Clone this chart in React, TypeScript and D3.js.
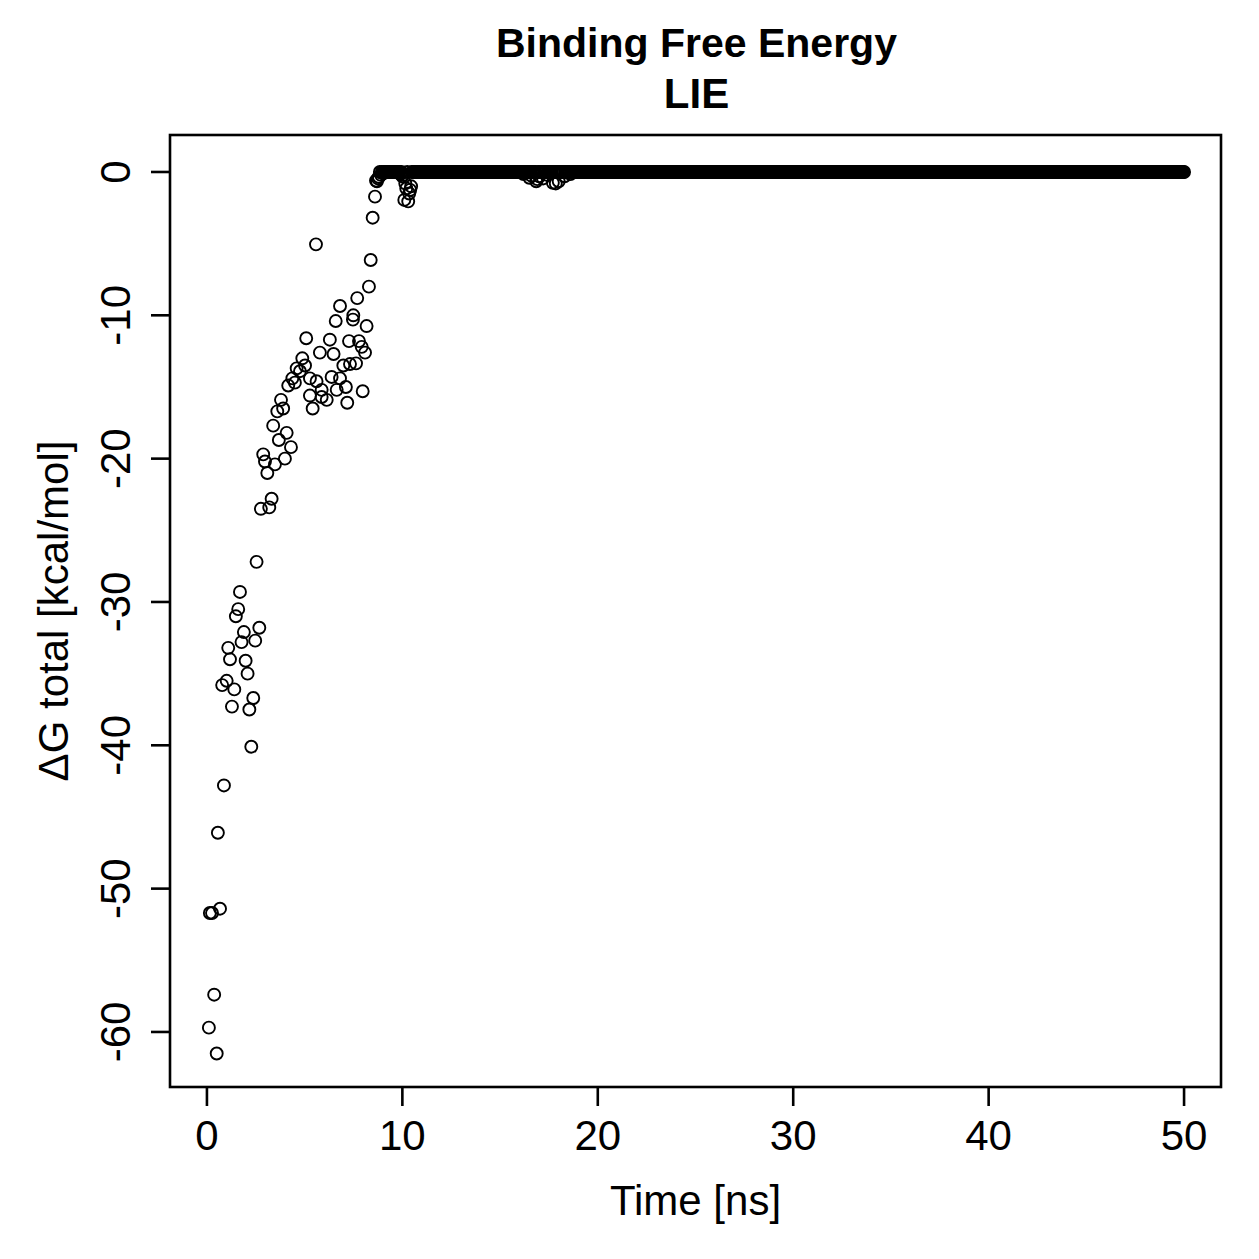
import * as d3 from 'd3';

// early part of the run, [time ns, dG kcal/mol]
const earlyTimes = [
  0.10, 0.15, 0.26, 0.37, 0.50, 0.56, 0.67, 0.87,
  2.54, 1.69, 1.60, 1.48, 2.68, 1.89, 1.77, 2.47, 1.09, 1.18, 1.98, 2.08,
  1.01, 0.78, 1.40, 2.37, 1.28, 2.17, 2.27,
  6.59, 7.47, 8.17, 5.08, 6.29, 7.27, 7.78, 7.92, 8.09, 5.78, 6.48, 4.88,
  4.59, 5.02, 4.76, 6.98, 7.32, 7.63, 4.37, 4.16, 4.50, 5.27, 5.61, 6.38,
  6.81, 7.11, 6.64, 5.87, 5.27, 5.87, 6.13, 7.97, 7.18, 5.41, 3.79, 3.90,
  3.60, 3.39, 4.08, 3.68, 4.30, 2.88, 2.97, 3.48, 3.99, 3.09, 3.31, 3.19,
  2.76,
  8.60, 8.48, 5.58, 8.38, 8.29, 7.69, 6.81, 7.49,
];
const earlyDG = [
  -59.7, -51.7, -51.7, -57.4, -61.5, -46.1, -51.4, -42.8,
  -27.2, -29.3, -30.5, -31.0, -31.8, -32.1, -32.8, -32.7, -33.2, -34.0, -34.1, -35.0,
  -35.5, -35.8, -36.1, -36.7, -37.3, -37.5, -40.1,
  -10.4, -10.3, -10.75, -11.6, -11.7, -11.8, -11.8, -12.2, -12.6, -12.6, -12.7, -13.0,
  -13.7, -13.5, -13.9, -13.5, -13.4, -13.35, -14.4, -14.9, -14.7, -14.4, -14.6, -14.3,
  -14.4, -15.0, -15.2, -15.2, -15.6, -15.7, -15.9, -15.3, -16.1, -16.5, -15.9, -16.5,
  -16.7, -17.7, -18.2, -18.7, -19.2, -19.7, -20.2, -20.4, -20.0, -21.0, -22.8, -23.4,
  -23.5,
  -1.72, -3.19, -5.05, -6.14, -8.0, -8.8, -9.35, -10.0,
];

// converged part: sampled every 0.05 ns, sitting at 0 apart from a few dips
const plateauFirst = 173; // frame index (x 0.05 ns)
const plateauLast = 1000;
const frameStep = 0.05;
const plateauDG = 0;
const dipTimes = [
  8.65, 8.70, 8.75, 8.80, 8.90, 9.00, 9.10, 9.90, 10.00, 10.05,
  10.10, 10.15, 10.20, 10.30, 10.35, 10.40, 10.45,
  16.20, 16.50, 16.60, 16.85, 16.90, 17.00, 17.20, 17.40, 17.70, 17.85, 18.00, 18.30, 18.60,
];
const dipDG = [
  -0.6, -0.65, -0.45, -0.35, -0.2, -0.1, -0.05, -0.15, -0.3, -0.2,
  -1.95, -0.8, -1.15, -2.05, -1.5, -1.25, -1.0,
  -0.15, -0.4, -0.25, -0.65, -0.5, -0.3, -0.45, -0.2, -0.75, -0.8, -0.65, -0.3, -0.15,
];

const xTicks = [0, 10, 20, 30, 40, 50];
const yTicks = [-60, -50, -40, -30, -20, -10, 0];

const W = 1259;
const H = 1259;
const box = { left: 170, right: 1221, top: 135, bottom: 1087 };
const font = '"Liberation Sans", Arial, Helvetica, sans-serif';

export default function App() {
  const x = d3.scaleLinear().domain([-1.89, 51.89]).range([box.left, box.right]);
  const y = d3.scaleLinear().domain([-63.84, 2.58]).range([box.bottom, box.top]);

  const dips = new Map<number, number>();
  dipTimes.forEach((t, i) => dips.set(Math.round(t / frameStep), dipDG[i]));

  const points: [number, number][] = earlyTimes.map((t, i) => [t, earlyDG[i]]);
  d3.range(plateauFirst, plateauLast + 1).forEach(k => {
    points.push([k * frameStep, dips.has(k) ? (dips.get(k) as number) : plateauDG]);
  });

  const cx = (box.left + box.right) / 2;
  const cy = (box.top + box.bottom) / 2;

  return (
    <svg width={W} height={H} style={{ position: 'absolute', left: 0, top: 0, background: '#fff' }}
      fontFamily={font}>
      <rect x={0} y={0} width={W} height={H} fill="#fff" />

      <text x={cx + 1} y={57} textAnchor="middle" fontSize={41} fontWeight="bold">Binding Free Energy</text>
      <text x={cx + 1} y={108} textAnchor="middle" fontSize={42} fontWeight="bold">LIE</text>

      <g fill="none" stroke="#000" strokeWidth={1.9}>
        {points.map((p, i) => (
          <circle key={i} cx={x(p[0])} cy={y(p[1])} r={6} />
        ))}
      </g>

      <rect x={box.left} y={box.top} width={box.right - box.left} height={box.bottom - box.top}
        fill="none" stroke="#000" strokeWidth={2.6} />

      <g stroke="#000" strokeWidth={2.6}>
        {xTicks.map(t => (
          <line key={t} x1={x(t)} x2={x(t)} y1={box.bottom} y2={box.bottom + 19} />
        ))}
        {yTicks.map(t => (
          <line key={t} x1={box.left} x2={box.left - 19} y1={y(t)} y2={y(t)} />
        ))}
      </g>

      <g fontSize={42} textAnchor="middle">
        {xTicks.map(t => (
          <text key={t} x={x(t)} y={1150}>{t}</text>
        ))}
        {yTicks.map(t => (
          <text key={t} transform={`translate(130,${y(t)}) rotate(-90)`}>{t}</text>
        ))}
        <text x={cx} y={1215}>Time [ns]</text>
        <text transform={`translate(68,${cy}) rotate(-90)`}>ΔG total [kcal/mol]</text>
      </g>
    </svg>
  );
}
